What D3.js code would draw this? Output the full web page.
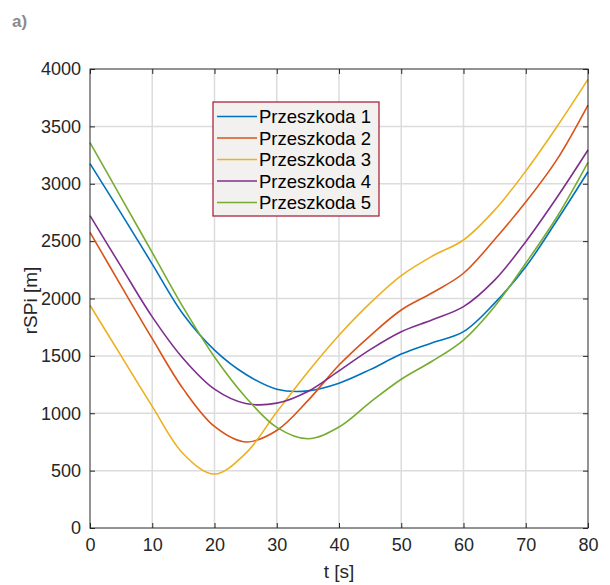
<!DOCTYPE html>
<html>
<head>
<meta charset="utf-8">
<script src="https://cdn.jsdelivr.net/npm/d3@7"></script>
<style>
  body { margin: 0; background: #fff; }
  text { font-family: "Liberation Sans", Arial, sans-serif; fill: #262626; }
</style>
</head>
<body>
<svg class="chart" width="610" height="585"></svg>
<script>
// time samples [s]
var times = [0, 5, 10, 15, 20, 25, 30, 35, 40, 45, 50, 55, 60, 65, 70, 75, 80];

// rSPi [m] for each obstacle
var p1 = [3175, 2742, 2300, 1860, 1550, 1340, 1210, 1195, 1262, 1380, 1516, 1615, 1711, 1960, 2277, 2680, 3105];
var p2 = [2577, 2110, 1650, 1210, 885, 750, 850, 1110, 1420, 1675, 1900, 2050, 2220, 2515, 2840, 3210, 3686];
var p3 = [1941, 1500, 1060, 645, 470, 650, 1010, 1360, 1680, 1960, 2200, 2370, 2510, 2770, 3110, 3497, 3910];
var p4 = [2722, 2278, 1840, 1475, 1210, 1085, 1088, 1190, 1370, 1555, 1711, 1815, 1929, 2160, 2495, 2880, 3294];
var p5 = [3358, 2880, 2400, 1920, 1490, 1140, 877, 778, 880, 1095, 1296, 1455, 1638, 1930, 2307, 2710, 3187];

var names = ["Przeszkoda 1", "Przeszkoda 2", "Przeszkoda 3", "Przeszkoda 4", "Przeszkoda 5"];
var colors = ["#0072BD", "#D95319", "#EDB120", "#7E2F8E", "#77AC30"];

var xTicks = [0, 10, 20, 30, 40, 50, 60, 70, 80];
var yTicks = [0, 500, 1000, 1500, 2000, 2500, 3000, 3500, 4000];

var series = [p1, p2, p3, p4, p5];

var margin = {left: 90, top: 69, right: 22, bottom: 57},
	width = 610 - margin.left - margin.right,
	height = 585 - margin.top - margin.bottom;

var svg = d3.select(".chart");

svg.append("text")
	.attr("x", 12)
	.attr("y", 27)
	.style("font-size", "17px")
	.style("font-weight", "bold")
	.style("fill", "#8c8c8c")
	.text("a)");

var chart = svg.append("g")
	.attr("transform", "translate(" + margin.left + "," + margin.top + ")");

var x = d3.scaleLinear().domain([0, 80]).range([0, width]);
var y = d3.scaleLinear().domain([0, 4000]).range([height, 0]);

// grid
chart.append("g").selectAll("line")
	.data(xTicks.slice(1, -1))
  .enter().append("line")
	.attr("x1", function(d) { return x(d); })
	.attr("x2", function(d) { return x(d); })
	.attr("y1", 0).attr("y2", height)
	.attr("stroke", "#dcdcdc").attr("stroke-width", 1.5);

chart.append("g").selectAll("line")
	.data(yTicks.slice(1, -1))
  .enter().append("line")
	.attr("y1", function(d) { return y(d); })
	.attr("y2", function(d) { return y(d); })
	.attr("x1", 0).attr("x2", width)
	.attr("stroke", "#dcdcdc").attr("stroke-width", 1.5);

// axes, ticks pointing inwards on all four sides
function styleAxis(g) {
	g.select(".domain").remove();
	g.selectAll(".tick line").attr("stroke", "#262626");
	g.selectAll(".tick text").style("font-size", "18px").attr("fill", "#262626");
}

chart.append("g")
	.attr("transform", "translate(0," + height + ")")
	.call(d3.axisBottom(x).tickValues(xTicks).tickFormat(d3.format("d"))
		.tickSizeInner(-5).tickSizeOuter(0).tickPadding(10))
	.call(styleAxis);

chart.append("g")
	.call(d3.axisLeft(y).tickValues(yTicks).tickFormat(d3.format("d"))
		.tickSizeInner(-5).tickSizeOuter(0).tickPadding(9))
	.call(styleAxis);

chart.append("g")
	.call(d3.axisTop(x).tickValues(xTicks).tickSizeInner(-5).tickSizeOuter(0).tickFormat(""))
	.call(styleAxis);

chart.append("g")
	.attr("transform", "translate(" + width + ",0)")
	.call(d3.axisRight(y).tickValues(yTicks).tickSizeInner(-5).tickSizeOuter(0).tickFormat(""))
	.call(styleAxis);

// lines
var line = d3.line()
	.x(function(d, i) { return x(times[i]); })
	.y(function(d) { return y(d); })
	.curve(d3.curveCatmullRom.alpha(0.5));

chart.selectAll(".series")
	.data(series)
  .enter().append("path")
	.attr("class", "series")
	.attr("fill", "none")
	.attr("stroke", function(d, i) { return colors[i]; })
	.attr("stroke-width", 1.6)
	.attr("d", line);

// box
chart.append("rect")
	.attr("width", width).attr("height", height)
	.attr("fill", "none")
	.attr("stroke", "#262626").attr("stroke-width", 1);

// axis titles
chart.append("text")
	.attr("x", width / 2)
	.attr("y", height + 50)
	.attr("text-anchor", "middle")
	.style("font-size", "19px")
	.text("t [s]");

chart.append("text")
	.attr("transform", "rotate(-90)")
	.attr("x", -(y(2000) + 2))
	.attr("y", -53)
	.attr("text-anchor", "middle")
	.style("font-size", "19px")
	.text("rSPi [m]");

// legend
var legend = svg.append("g").attr("transform", "translate(213,102)");
legend.append("rect")
	.attr("width", 166).attr("height", 114)
	.attr("fill", "#f2f1f0")
	.attr("stroke", "#a2142f").attr("stroke-width", 1.2);

var items = legend.selectAll(".item")
	.data(names)
  .enter().append("g")
	.attr("class", "item")
	.attr("transform", function(d, i) { return "translate(0," + (14.5 + i * 21.5) + ")"; });

items.append("line")
	.attr("x1", 4).attr("x2", 44)
	.attr("stroke", function(d, i) { return colors[i]; })
	.attr("stroke-width", 1.6);

items.append("text")
	.attr("x", 46)
	.attr("y", 6.5)
	.style("font-size", "18.5px")
	.style("fill", "#000")
	.text(function(d) { return d; });
</script>
</body>
</html>
